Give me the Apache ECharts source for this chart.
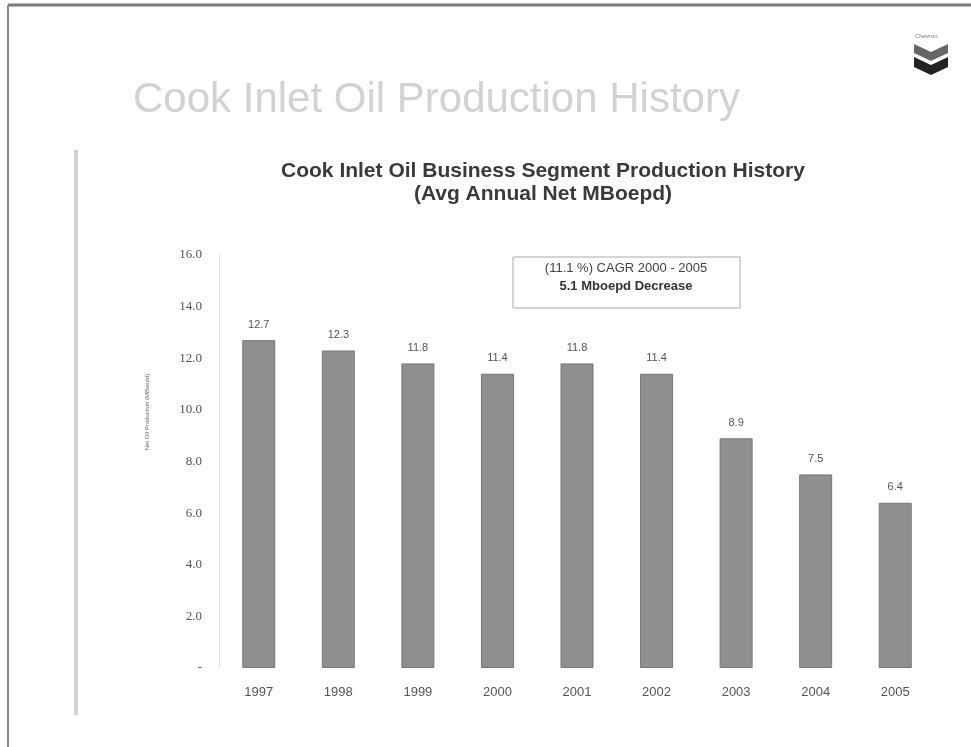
<!DOCTYPE html>
<html>
<head>
<meta charset="utf-8">
<script src="https://cdn.jsdelivr.net/npm/echarts@6/dist/echarts.min.js"></script>
<style>
  html, body { margin: 0; padding: 0; background: #ffffff; }
  #chart { width: 971px; height: 747px; }
</style>
</head>
<body>
<div id="chart"></div>
<script>
// Annual production by year (Avg Annual Net MBoepd)
const years = ['1997', '1998', '1999', '2000', '2001', '2002', '2003', '2004', '2005'];
const production = [12.7, 12.3, 11.8, 11.4, 11.8, 11.4, 8.9, 7.5, 6.4];
const yTicks = { min: 0, max: 16, step: 2 };
const noteLines = ['(11.1 %) CAGR 2000 - 2005', '5.1 Mboepd Decrease'];

const chart = echarts.init(document.getElementById('chart'));

chart.setOption({
  backgroundColor: '#ffffff',
  animation: false,
  title: [
    {
      text: 'Cook Inlet Oil Production History',
      left: 128, top: 74,
      textStyle: { fontFamily: 'Liberation Sans', fontSize: 42, fontWeight: 'normal', color: '#d2d2d2' }
    },
    {
      text: 'Cook Inlet Oil Business Segment Production History\n(Avg Annual Net MBoepd)',
      left: 538, top: 155, textAlign: 'center',
      textStyle: { fontFamily: 'Liberation Sans', fontSize: 21, fontWeight: 'bold', color: '#3a3a3a', lineHeight: 23 }
    }
  ],
  grid: { left: 219, right: 36, top: 255, bottom: 79 },
  xAxis: {
    type: 'category',
    data: years,
    axisLine: { show: false },
    axisTick: { show: false },
    axisLabel: { margin: 18, fontFamily: 'Liberation Sans', fontSize: 13, color: '#555' }
  },
  yAxis: {
    type: 'value',
    min: yTicks.min, max: yTicks.max, interval: yTicks.step,
    axisLine: { show: true, lineStyle: { color: '#d8d8d8', type: 'dotted' } },
    axisTick: { show: false },
    splitLine: { show: false },
    axisLabel: {
      margin: 17, fontFamily: 'Liberation Serif', fontSize: 13, color: '#555',
      formatter: v => (v === 0 ? '-' : v.toFixed(1))
    }
  },
  series: [{
    type: 'bar',
    data: production,
    barWidth: 33,
    itemStyle: { color: '#8f8f8f', borderColor: '#777', borderWidth: 1 },
    label: {
      show: true, position: 'top', distance: 10,
      fontFamily: 'Liberation Sans', fontSize: 11, color: '#555',
      formatter: p => p.value.toFixed(1)
    }
  }],
  graphic: [
    // page frame
    { type: 'line', shape: { x1: 8, y1: 5, x2: 971, y2: 5 }, style: { stroke: '#7a7a7a', lineWidth: 3 } },
    { type: 'line', shape: { x1: 8, y1: 5, x2: 8, y2: 747 }, style: { stroke: '#8a8a8a', lineWidth: 2 } },
    { type: 'rect', shape: { x: 74, y: 150, width: 4, height: 565 }, style: { fill: '#d2d2d2' } },
    // logo
    { type: 'text', left: 915, top: 33, style: { text: 'Chevron', font: '6px Liberation Sans', fill: '#777' } },
    { type: 'polygon', shape: { points: [[914, 44], [931, 52], [948, 44], [948, 53], [931, 61], [914, 53]] }, style: { fill: '#666' } },
    { type: 'polygon', shape: { points: [[914, 57], [931, 65], [948, 57], [948, 67], [931, 75], [914, 67]] }, style: { fill: '#222' } },
    // note box
    { type: 'rect', shape: { x: 513, y: 257, width: 227, height: 51 }, style: { fill: 'none', stroke: '#aaa', lineWidth: 1 } },
    { type: 'text', x: 626, y: 268, style: { text: noteLines[0], textAlign: 'center', textVerticalAlign: 'middle', font: '13px Liberation Sans', fill: '#444' } },
    { type: 'text', x: 626, y: 286, style: { text: noteLines[1], textAlign: 'center', textVerticalAlign: 'middle', font: 'bold 13px Liberation Sans', fill: '#333' } },
    // y-axis title
    { type: 'text', x: 147, y: 412, rotation: Math.PI / 2, style: { text: 'Net Oil Production (MBoepd)', textAlign: 'center', textVerticalAlign: 'middle', font: '6px Liberation Sans', fill: '#666' } }
  ]
});
</script>
</body>
</html>
